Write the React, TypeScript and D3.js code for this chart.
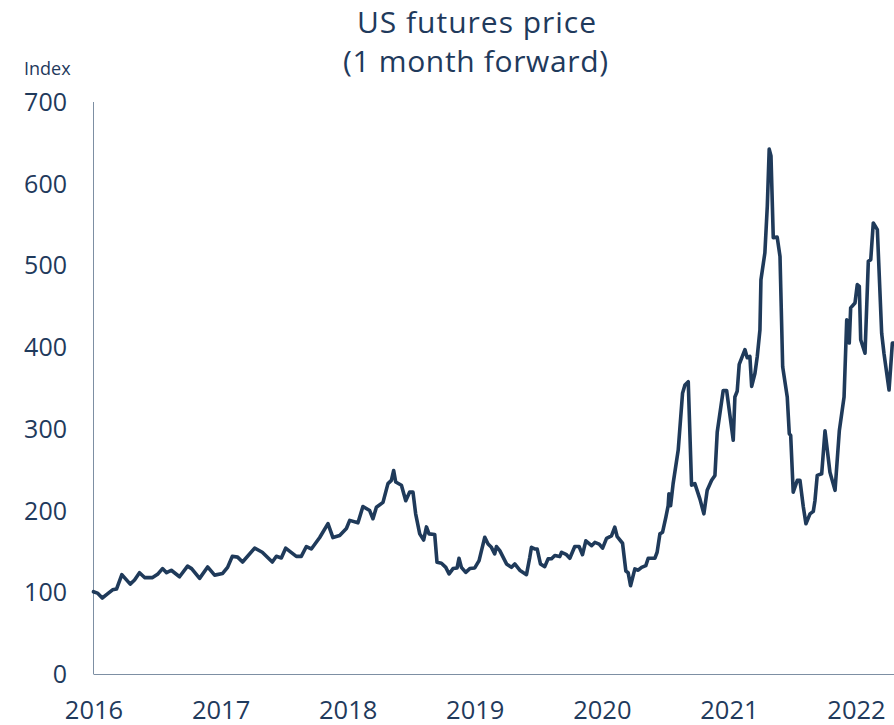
import React from "react";
import * as d3 from "d3";

const title1 = "US futures price";
const title2 = "(1 month forward)";
const yUnit = "Index";
const yTicks = [0, 100, 200, 300, 400, 500, 600, 700];
const xTicks = [2016, 2017, 2018, 2019, 2020, 2021, 2022];

// decimal year of each observation
const years = [
  2016.0, 2016.031, 2016.069, 2016.11, 2016.15, 2016.181, 2016.223, 2016.289, 2016.323, 2016.362,
  2016.402, 2016.465, 2016.504, 2016.543, 2016.575, 2016.612, 2016.677, 2016.74, 2016.772, 2016.835,
  2016.898, 2016.953, 2017.016, 2017.055, 2017.092, 2017.134, 2017.173, 2017.268, 2017.328, 2017.407,
  2017.439, 2017.478, 2017.512, 2017.596, 2017.635, 2017.675, 2017.714, 2017.78, 2017.845, 2017.884,
  2017.937, 2017.99, 2018.016, 2018.081, 2018.12, 2018.173, 2018.199, 2018.226, 2018.278, 2018.317,
  2018.344, 2018.362, 2018.378, 2018.423, 2018.457, 2018.488, 2018.514, 2018.535, 2018.567, 2018.598,
  2018.62, 2018.64, 2018.685, 2018.703, 2018.738, 2018.772, 2018.798, 2018.829, 2018.861, 2018.876,
  2018.895, 2018.929, 2018.961, 2019.0, 2019.034, 2019.053, 2019.079, 2019.105, 2019.131, 2019.157,
  2019.171, 2019.197, 2019.25, 2019.289, 2019.315, 2019.354, 2019.407, 2019.433, 2019.446, 2019.472,
  2019.491, 2019.517, 2019.551, 2019.577, 2019.604, 2019.63, 2019.669, 2019.683, 2019.722, 2019.748,
  2019.787, 2019.821, 2019.848, 2019.874, 2019.919, 2019.945, 2019.979, 2020.006, 2020.037, 2020.076,
  2020.102, 2020.121, 2020.163, 2020.189, 2020.207, 2020.226, 2020.26, 2020.286, 2020.313, 2020.346,
  2020.365, 2020.417, 2020.435, 2020.457, 2020.478, 2020.504, 2020.522, 2020.528, 2020.541, 2020.561,
  2020.601, 2020.635, 2020.654, 2020.68, 2020.706, 2020.732, 2020.772, 2020.803, 2020.829, 2020.864,
  2020.89, 2020.908, 2020.955, 2020.982, 2021.034, 2021.047, 2021.065, 2021.081, 2021.126, 2021.144,
  2021.165, 2021.179, 2021.205, 2021.223, 2021.244, 2021.252, 2021.283, 2021.302, 2021.317, 2021.331,
  2021.349, 2021.38, 2021.402, 2021.423, 2021.459, 2021.475, 2021.486, 2021.506, 2021.538, 2021.559,
  2021.585, 2021.606, 2021.638, 2021.664, 2021.677, 2021.695, 2021.73, 2021.756, 2021.795, 2021.835,
  2021.869, 2021.906, 2021.927, 2021.947, 2021.958, 2021.992, 2022.01, 2022.026, 2022.037, 2022.071,
  2022.097, 2022.116, 2022.136, 2022.168, 2022.202, 2022.22, 2022.26, 2022.286, 2022.299,
];

const prices = [
  100.7, 99, 93, 98, 103, 104, 121.6, 110, 115, 124,
  118, 118, 122, 129, 124, 127, 119, 132, 129, 117,
  131, 121, 123, 130.5, 144, 143, 137, 154, 149, 137,
  144, 142, 154, 144, 144, 156, 153, 167, 184, 167,
  169.5, 178, 188, 185, 205, 200, 190, 204, 210, 233,
  237, 249, 235, 231, 212, 222.6, 222.6, 196, 171.5, 164,
  180, 171.5, 170.7, 136.7, 135.5, 130.5, 122.4, 129, 129.8, 141.6,
  130.5, 124.4, 129, 129.8, 138.8, 151, 167.4, 159, 155, 147,
  156, 151, 134.7, 130.5, 134.7, 127, 121.6, 142.8, 155, 153,
  153, 134.7, 131.4, 140.9, 141, 145, 143.7, 149, 146, 141.6,
  156, 156, 146, 163, 157, 161, 159, 154, 166, 169,
  179.7, 168, 160, 126, 124, 108, 128.6, 127, 130.5, 132.6,
  141.6, 141.6, 149, 171.5, 173.5, 192, 206, 220.6, 206, 233,
  274, 343.5, 353.7, 357.7, 231, 233, 214, 196, 225, 237,
  243, 296, 347, 347, 286, 339, 346, 379, 397, 387,
  388.6, 352, 368, 388.6, 421, 482.6, 515.4, 572.6, 642.3, 634,
  534, 534.6, 511, 376, 339, 294, 292, 222.6, 237, 237,
  205, 183.8, 196, 199, 212, 243, 245, 297.6, 247, 224.7,
  298, 339, 433.5, 405, 448, 454, 476.5, 474.4, 409, 392.6,
  505, 507, 552, 543.8, 417, 392.6, 347.5, 405, 405,
];

const W = 894;
const H = 725;
const TEXT = "#1f3a5c";
const LINE = "#1f3a5a";
const FONT = "'Open Sans', 'Noto Sans', sans-serif";

export default function App() {
  const x = d3.scaleLinear().domain([2016, 2022.299]).range([93.5, 894]);
  const y = d3.scaleLinear().domain([0, 700]).range([674, 102]);
  const data = years.map((yr, i) => [yr, prices[i]] as [number, number]);
  const line = d3
    .line<[number, number]>()
    .x((d) => x(d[0]))
    .y((d) => y(d[1]));

  return (
    <svg
      width={W}
      height={H}
      style={{ position: "absolute", left: 0, top: 0, background: "#fff" }}
      fontFamily={FONT}
    >
      <text x={476.5} y={33} textAnchor="middle" fontSize={30} fontWeight={500} fill={TEXT} textLength={239}>
        {title1}
      </text>
      <text x={475.5} y={72} textAnchor="middle" fontSize={30} fontWeight={500} fill={TEXT} textLength={265}>
        {title2}
      </text>
      <text x={24} y={75} fontSize={18} fill={TEXT}>
        {yUnit}
      </text>

      {yTicks.map((t) => (
        <text key={t} x={67} y={y(t) + 9} textAnchor="end" fontSize={25} fill={TEXT}>
          {t}
        </text>
      ))}
      {xTicks.map((t) => (
        <text key={t} x={x(t) + 0.5} y={719} textAnchor="middle" fontSize={25.5} fill={TEXT}>
          {t}
        </text>
      ))}

      <line x1={93.5} x2={93.5} y1={y(700)} y2={y(0)} stroke="#7d8fa3" strokeWidth={1} />
      <line x1={93.5} x2={894} y1={y(0) + 0.5} y2={y(0) + 0.5} stroke="#7d8fa3" strokeWidth={1} />

      <path
        d={line(data) || ""}
        fill="none"
        stroke={LINE}
        strokeWidth={3.6}
        strokeLinejoin="round"
        strokeLinecap="round"
      />
    </svg>
  );
}
